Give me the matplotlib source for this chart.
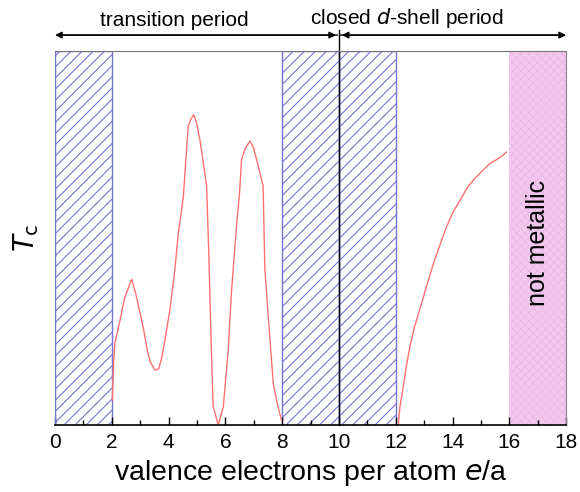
import numpy as np
import matplotlib
matplotlib.use("Agg")
import matplotlib.pyplot as plt

plt.rcParams['font.family'] = ['Liberation Sans', 'DejaVu Sans']
plt.rcParams['hatch.linewidth'] = 0.8

# Tc curve, transition period (normalised 0..1)
x_tr = [2.02, 2.06, 2.11, 2.20, 2.29, 2.45, 2.70, 2.85, 3.11, 3.25, 3.35, 3.52,
        3.65, 3.76, 3.90, 4.05, 4.20, 4.34, 4.52, 4.62, 4.69, 4.80, 4.89, 4.98,
        5.11, 5.34, 5.42, 5.50, 5.57, 5.75, 5.93, 6.10, 6.22, 6.40, 6.50, 6.57,
        6.70, 6.87, 7.00, 7.10, 7.33, 7.39, 7.55, 7.69, 7.85, 7.98]
y_tr = [0.067, 0.16, 0.22, 0.25, 0.28, 0.34, 0.39, 0.35, 0.26, 0.20, 0.17, 0.147,
        0.15, 0.18, 0.24, 0.31, 0.40, 0.51, 0.61, 0.72, 0.80, 0.82, 0.83, 0.81,
        0.76, 0.64, 0.45, 0.22, 0.05, 0.0, 0.05, 0.20, 0.36, 0.54, 0.62, 0.71,
        0.74, 0.76, 0.74, 0.71, 0.64, 0.42, 0.25, 0.11, 0.05, 0.013]

# Tc curve, closed d-shell period
x_cd = [12.09, 12.15, 12.26, 12.38, 12.5, 12.65, 12.85, 13.08, 13.32, 13.55, 13.79,
        14.02, 14.26, 14.52, 14.79, 15.05, 15.32, 15.55, 15.75, 15.9]
y_cd = [0.0, 0.05, 0.10, 0.16, 0.21, 0.26, 0.31, 0.37, 0.43, 0.48, 0.53,
        0.57, 0.60, 0.635, 0.66, 0.68, 0.70, 0.71, 0.72, 0.73]

hatched = [(0, 2), (8, 10), (10, 12)]
not_metallic = (16, 18)
xticks = list(range(0, 19, 2))

fig = plt.figure(figsize=(5.8, 4.92), dpi=100)
ax = fig.add_axes([0.0948, 0.136, 0.8812, 0.76])

for a, b in hatched:
    ax.axvspan(a, b, facecolor='none', edgecolor='#7373d8', hatch='///', lw=1.0)
ax.axvspan(*not_metallic, facecolor='#f2c9ee', edgecolor='#eabbe6', hatch='xxxx', lw=0)

ax.plot(x_tr, y_tr, color='#ff7070', lw=1.0)
ax.plot(x_cd, y_cd, color='#ff7070', lw=1.0)

ax.set_xlim(0, 18)
ax.set_ylim(0, 1)
ax.set_xticks(xticks)
ax.set_xticks(range(1, 18, 2), minor=True)
ax.set_yticks([])
ax.tick_params(axis='x', which='major', direction='in', length=6, width=1,
               labelsize=15, pad=6)
ax.tick_params(axis='x', which='minor', direction='in', length=3.5, width=1)

ax.spines['top'].set_color('#777777')
ax.spines['left'].set_color('#7373d8')
ax.spines['right'].set_color('#9a7a9a')
ax.spines['bottom'].set_linewidth(1.2)

ax.set_xlabel('valence electrons per atom $\\it{e}$/a', fontsize=20.5, labelpad=4)
ax.set_ylabel('$T_{\\rm c}$', fontsize=20, labelpad=10)

# period arrows and separator
ax.plot([10, 10], [0, 1.056], color='black', lw=1.0, clip_on=False)
arrow = dict(arrowstyle='-|>', color='black', lw=1.0, mutation_scale=10,
             shrinkA=0, shrinkB=0)
for tip, tail in [(0, 9.95), (9.9, 0.3), (18, 10.05), (10.1, 17.7)]:
    ax.annotate('', xy=(tip, 1.043), xytext=(tail, 1.043), arrowprops=arrow,
                annotation_clip=False)
ax.text(4.2, 1.056, 'transition period', ha='center', va='bottom', fontsize=15)
ax.text(12.4, 1.056, 'closed $\\it{d}$-shell period', ha='center', va='bottom',
        fontsize=15)

ax.text(17, 0.487, 'not metallic', rotation=90, ha='center', va='center',
        fontsize=18)

fig.savefig('out.png', dpi=100)
